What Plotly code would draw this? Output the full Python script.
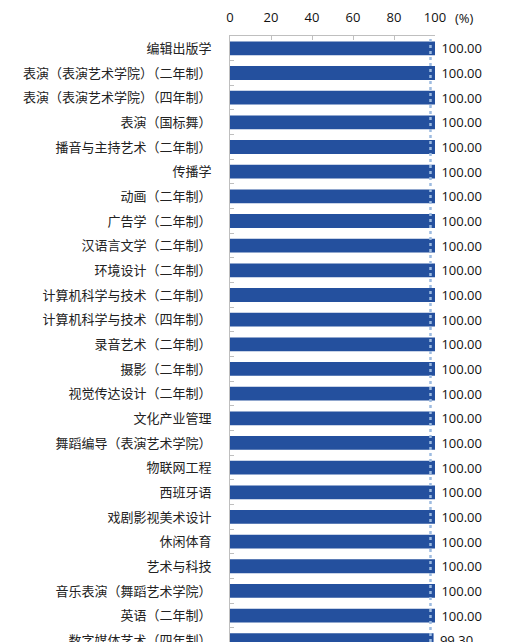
import plotly.graph_objects as go

# majors (top to bottom) and their rates in %
majors = [
    "编辑出版学",
    "表演（表演艺术学院）（二年制）",
    "表演（表演艺术学院）（四年制）",
    "表演（国标舞）",
    "播音与主持艺术（二年制）",
    "传播学",
    "动画（二年制）",
    "广告学（二年制）",
    "汉语言文学（二年制）",
    "环境设计（二年制）",
    "计算机科学与技术（二年制）",
    "计算机科学与技术（四年制）",
    "录音艺术（二年制）",
    "摄影（二年制）",
    "视觉传达设计（二年制）",
    "文化产业管理",
    "舞蹈编导（表演艺术学院）",
    "物联网工程",
    "西班牙语",
    "戏剧影视美术设计",
    "休闲体育",
    "艺术与科技",
    "音乐表演（舞蹈艺术学院）",
    "英语（二年制）",
    "数字媒体艺术（四年制）",
]
rates = [100.00] * 24 + [99.30]
average_rate = 97.8
x_ticks = [0, 20, 40, 60, 80, 100]

bar_color = "#24509E"
axis_color = "#BFBFBF"

fig = go.Figure()

fig.add_trace(go.Bar(
    y=majors, x=rates, orientation="h",
    width=0.56,
    marker=dict(color=bar_color, line=dict(width=0)),
    text=["\u00a0%.2f" % r for r in rates],
    textposition="outside",
    constraintext="none",
    textfont=dict(family="Open Sans, Liberation Sans", size=13, color="#111111"),
    cliponaxis=False,
    showlegend=False,
))

# dotted average line
fig.add_shape(type="line", xref="x", yref="paper",
              x0=average_rate, x1=average_rate, y0=0, y1=0.995,
              line=dict(color="#9DBBE0", width=2.5, dash="dot"))

fig.add_annotation(text="(%)", xref="paper", yref="paper", x=1.146, y=1,
                   xanchor="center", yanchor="middle", yshift=18, showarrow=False,
                   font=dict(family="Open Sans, Liberation Sans", size=13, color="#111111"))

# page body has an 8px margin, so the figure is shifted by 8px
fig.update_layout(
    width=524, height=634,
    margin=dict(l=222, r=97, t=28, b=0, autoexpand=False),
    plot_bgcolor="white", paper_bgcolor="white",
    font=dict(family="Noto Sans CJK SC", size=13, color="#222222"),
)
fig.update_xaxes(
    side="top", range=[0, 100], tickvals=x_ticks, automargin=False,
    showgrid=False, zeroline=False,
    showline=True, linecolor=axis_color, linewidth=1,
    ticks="inside", ticklen=4, tickcolor=axis_color,
    ticklabelstandoff=8,
    tickfont=dict(family="Open Sans, Liberation Sans", size=13, color="#111111"),
)
fig.update_yaxes(
    range=[24.07, -0.5], automargin=False, showgrid=False, zeroline=False,
    showline=True, linecolor=axis_color, linewidth=1,
    ticks="inside", ticklen=4, tickcolor=axis_color, tickson="boundaries",
    ticklabelstandoff=15,
    tickfont=dict(family="Noto Sans CJK SC", size=13, color="#222222"),
)

fig.write_html("out.html")
